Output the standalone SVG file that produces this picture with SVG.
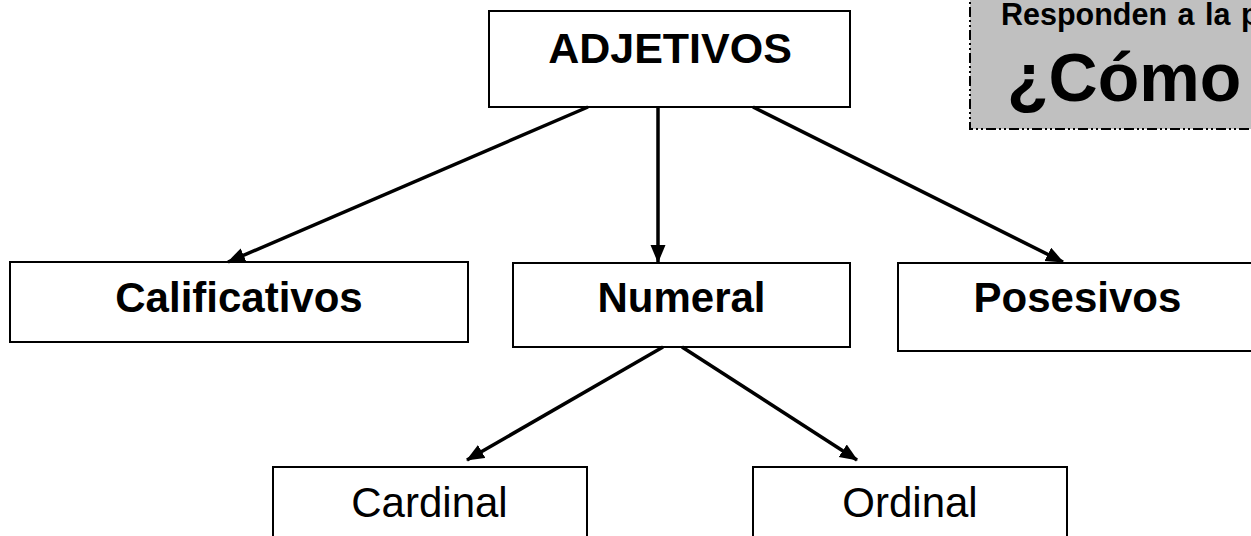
<svg xmlns="http://www.w3.org/2000/svg" width="1251" height="536" viewBox="0 0 1251 536">
<style>
.box{fill:#fff;stroke:#000;stroke-width:2}
.b{font-family:"Liberation Sans",Arial,sans-serif;font-weight:bold;fill:#000}
.r{font-family:"Liberation Sans",Arial,sans-serif;fill:#000}
.c{stroke:#000;stroke-width:3.5;fill:none;marker-end:url(#ah)}
</style>
<defs>
<marker id="ah" markerUnits="userSpaceOnUse" markerWidth="18" markerHeight="16" refX="17" refY="7.5" orient="auto" viewBox="0 0 18 16">
<path d="M0,0 L18,7.5 L0,15 z" fill="#000"/>
</marker>
</defs>
<rect x="0" y="0" width="1251" height="536" fill="#fff"/>
<g id="note">
<rect x="970" y="-10" width="300" height="139" fill="#C0C0C0" stroke="#000" stroke-width="2" stroke-dasharray="10 3 2 3 2 3"/>
<text class="b" x="1001" y="25" font-size="30.5" word-spacing="2">Responden a la p</text>
<text class="b" x="1007" y="101" font-size="68">¿Cómo</text>
</g>
<g id="adjetivos">
<rect class="box" x="489" y="11" width="361" height="96"/>
<text class="b" x="670" y="63" font-size="43" text-anchor="middle">ADJETIVOS</text>
</g>
<g id="calificativos">
<rect class="box" x="10" y="262" width="458" height="80"/>
<text class="b" x="239" y="312" font-size="42" text-anchor="middle">Calificativos</text>
</g>
<g id="numeral">
<rect class="box" x="513" y="263" width="337" height="84"/>
<text class="b" x="681.5" y="312" font-size="42" text-anchor="middle">Numeral</text>
</g>
<g id="posesivos">
<rect class="box" x="898" y="263" width="380" height="88"/>
<text class="b" x="1077.5" y="312" font-size="42" text-anchor="middle">Posesivos</text>
</g>
<g id="cardinal">
<rect class="box" x="273" y="467" width="314" height="90"/>
<text class="r" x="429.5" y="517" font-size="42" text-anchor="middle">Cardinal</text>
</g>
<g id="ordinal">
<rect class="box" x="753" y="467" width="314" height="90"/>
<text class="r" x="910" y="517" font-size="42" text-anchor="middle">Ordinal</text>
</g>
<g id="connectors">
<line class="c" x1="588" y1="107" x2="228" y2="262"/>
<line class="c" x1="658" y1="107" x2="658" y2="262"/>
<line class="c" x1="753" y1="107" x2="1063" y2="262"/>
<line class="c" x1="663" y1="347" x2="467" y2="460"/>
<line class="c" x1="682" y1="347" x2="857" y2="460"/>
</g>
</svg>
